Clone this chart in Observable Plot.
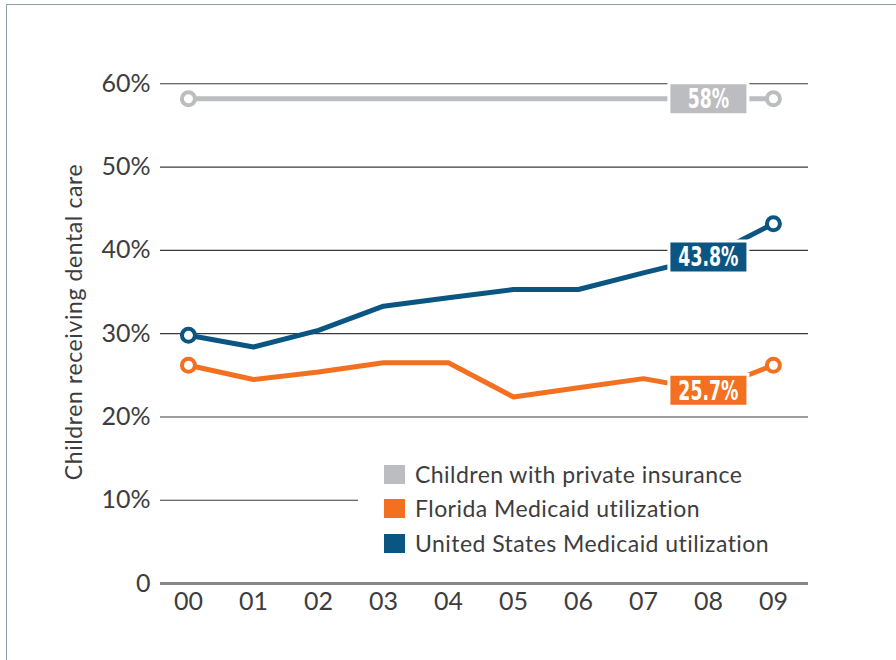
<!DOCTYPE html>
<html><head><meta charset="utf-8">
<script src="https://cdn.jsdelivr.net/npm/d3@7"></script>
<script src="https://cdn.jsdelivr.net/npm/@observablehq/plot@0.6"></script>
<style>
body{margin:0;background:#fff;}
#wrap{position:relative;width:896px;height:660px;overflow:hidden;background:#fff;}
#frame{position:absolute;left:6px;top:4px;width:900px;height:700px;border-left:1.5px solid #8c9fa6;border-top:1.5px solid #8c9fa6;}
#chart{position:absolute;left:0;top:0;}
#ytitle{position:absolute;left:73px;top:322px;transform:translate(-50%,-50%) rotate(-90deg);white-space:nowrap;font-family:Lato,sans-serif;font-size:23px;letter-spacing:0.6px;color:#3d3d3d;}
#legend{position:absolute;left:358px;top:455px;width:450px;height:105px;background:#fff;font-family:Lato,sans-serif;font-size:23px;letter-spacing:0.45px;color:#3d3d3d;}
.item{position:absolute;left:26px;height:24px;display:flex;align-items:center;white-space:nowrap;}
.sw{width:21px;height:19px;margin-right:10px;}
</style>
</head><body>
<div id="wrap"><div id="frame"></div><div id="chart"></div><div id="ytitle"></div><div id="legend"></div></div>
<script>
const years = ["00","01","02","03","04","05","06","07","08","09"];
const privateIns = [58.2,58.2,58.2,58.2,58.2,58.2,58.2,58.2,58.2,58.2];
const florida = [26.2,24.5,25.4,26.5,26.5,22.4,23.5,24.6,23.2,26.2];
const usMedicaid = [29.8,28.4,30.4,33.3,34.3,35.3,35.3,37.3,39.2,43.2];
const seriesNames = ["Children with private insurance","Florida Medicaid utilization","United States Medicaid utilization"];
const seriesColors = ["#bcbdc0","#f37021","#0b5583"];
const seriesValues = [privateIns, florida, usMedicaid];
const calloutYear = "08";
const calloutLabels = ["58%","25.7%","43.8%"];
const yTicks = [0,10,20,30,40,50,60];
const yTitle = "Children receiving dental care";

const rows = [];
seriesValues.forEach((vals, s) => vals.forEach((v, i) => rows.push({i, v, s: seriesNames[s]})));
const ends = rows.filter(d => d.i === 0 || d.i === years.length - 1);
const ci = years.indexOf(calloutYear);
const callouts = seriesNames.map((s, k) => ({i: ci, v: seriesValues[k][ci], s, label: calloutLabels[k]}));
const boxSymbol = {draw(ctx) { ctx.rect(-39.5, -16, 79, 32); }};

const chart = Plot.plot({
  width: 896, height: 660,
  marginLeft: 160, marginRight: 88, marginTop: 83.3, marginBottom: 77,
  style: {fontFamily: "Lato, sans-serif", fontSize: "25px", color: "#3d3d3d", background: "transparent"},
  x: {type: "linear", domain: [-0.43, 9.54], axis: null},
  y: {domain: [0, 60], axis: null},
  color: {domain: seriesNames, range: seriesColors},
  marks: [
    Plot.ruleY(yTicks.filter(d => d > 0), {stroke: "#3a3a3a", strokeWidth: 1.1}),
    Plot.ruleY([0], {stroke: "#88888b", strokeWidth: 3}),
    Plot.axisY({ticks: yTicks, tickFormat: d => d === 0 ? "0" : d + "%", tickSize: 0, tickPadding: 10, fontSize: 25, label: null}),
    Plot.axisX({ticks: d3.range(years.length), tickFormat: i => years[i], tickSize: 0, tickPadding: 9, fontSize: 25, label: null}),
    Plot.line(rows, {x: "i", y: "v", z: "s", stroke: "s", strokeWidth: 5, strokeLinejoin: "miter"}),
    Plot.dot(ends, {x: "i", y: "v", stroke: "s", fill: "white", r: 6.5, strokeWidth: 4}),
    Plot.dot(callouts, {x: "i", y: "v", fill: "s", stroke: "white", strokeWidth: 3, symbol: boxSymbol, r: 10}),
    Plot.text(callouts, {x: "i", y: "v", text: "label", fill: "white", fontWeight: "bold", fontSize: 26, dy: 1,
      fontFamily: "'Liberation Sans Narrow', 'DejaVu Sans Condensed', sans-serif", className: "callout"})
  ]
});
document.getElementById("chart").appendChild(chart);
// condense callout text horizontally
chart.querySelectorAll(".callout text").forEach(t => {
  const w = t.getComputedTextLength();
  t.setAttribute("textLength", (w * 0.74).toFixed(1));
  t.setAttribute("lengthAdjust", "spacingAndGlyphs");
});
document.getElementById("ytitle").textContent = yTitle;
const leg = document.getElementById("legend");
const rowTops = [7, 41, 76];
seriesNames.forEach((s, k) => {
  const it = document.createElement("div");
  it.className = "item";
  it.style.top = rowTops[k] + "px";
  const sw = document.createElement("span");
  sw.className = "sw"; sw.style.background = seriesColors[k];
  const t = document.createElement("span"); t.textContent = s;
  it.appendChild(sw); it.appendChild(t);
  leg.appendChild(it);
});
</script>
</body></html>
